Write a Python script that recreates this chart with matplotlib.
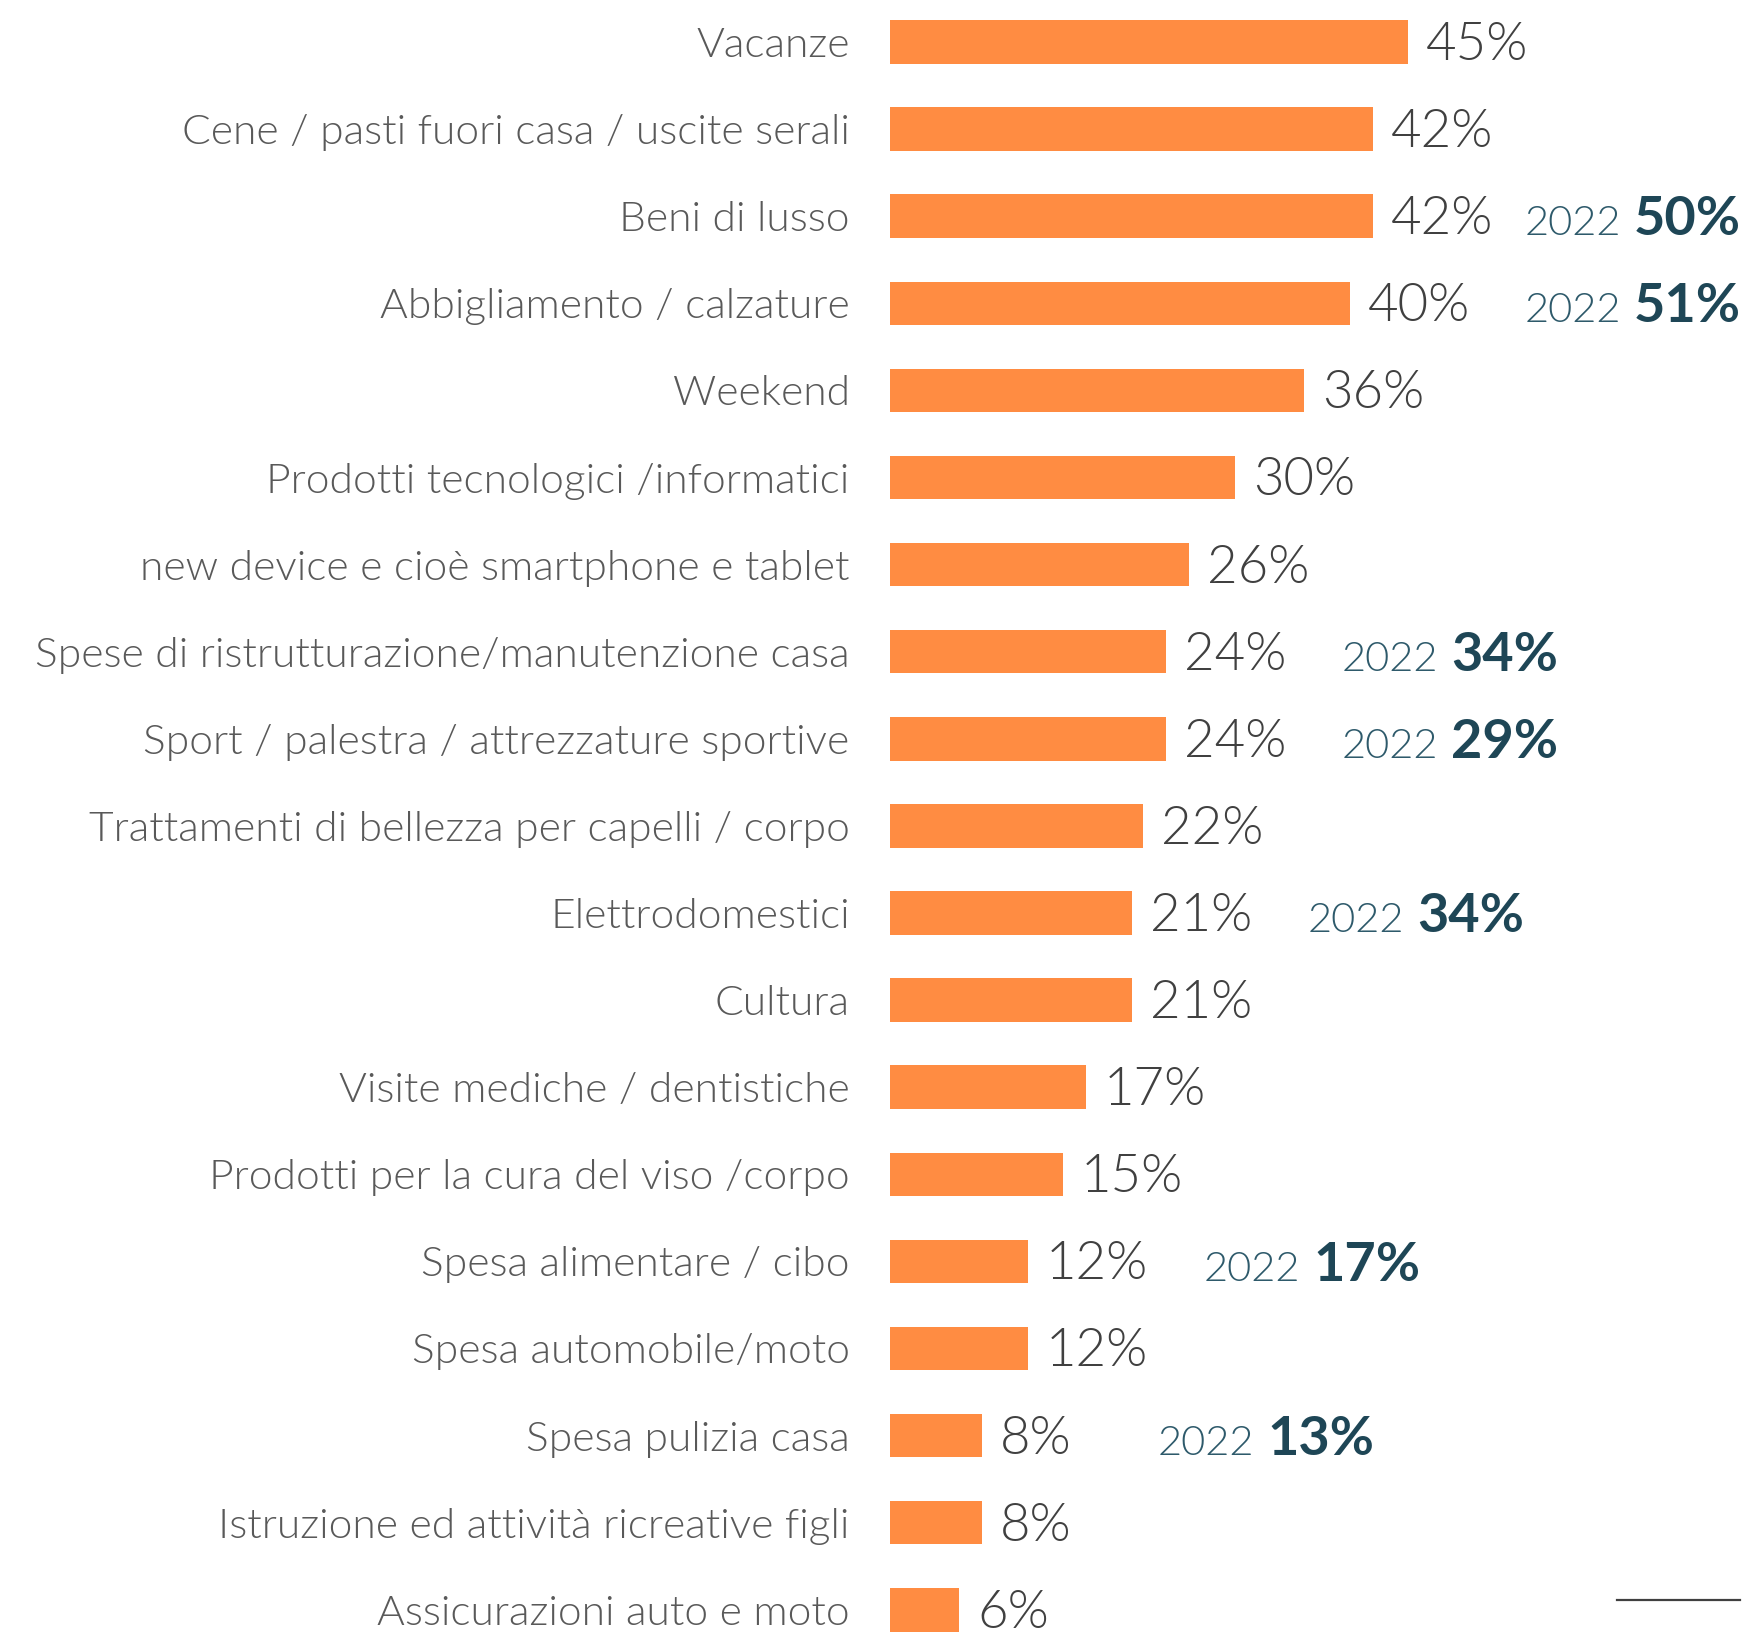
import matplotlib
matplotlib.use("Agg")
import matplotlib.pyplot as plt
from matplotlib.lines import Line2D

plt.rcParams['font.family'] = ['Lato', 'DejaVu Sans']

categories = [
    "Vacanze",
    "Cene / pasti fuori casa / uscite serali",
    "Beni di lusso",
    "Abbigliamento / calzature",
    "Weekend",
    "Prodotti tecnologici /informatici",
    "new device e cioè smartphone e tablet",
    "Spese di ristrutturazione/manutenzione casa",
    "Sport / palestra / attrezzature sportive",
    "Trattamenti di bellezza per capelli / corpo",
    "Elettrodomestici",
    "Cultura",
    "Visite mediche / dentistiche",
    "Prodotti per la cura del viso /corpo",
    "Spesa alimentare / cibo",
    "Spesa automobile/moto",
    "Spesa pulizia casa",
    "Istruzione ed attività ricreative figli",
    "Assicurazioni auto e moto",
]
values = [45, 42, 42, 40, 36, 30, 26, 24, 24, 22, 21, 21, 17, 15, 12, 12, 8, 8, 6]
values_2022 = [None, None, 50, 51, None, None, None, 34, 29, None, 34,
               None, None, None, 17, None, 13, None, None]

BAR = "#FF8C42"
LABEL = "#595959"
VALUE = "#404040"
TEAL_LIGHT = "#2E5A6B"
TEAL = "#1E4656"
LIGHT = 300

W, H, DPI = 1753, 1632, 100
fig = plt.figure(figsize=(W / DPI, H / DPI), dpi=DPI)

# row pitch ~87 px, first row centred 42 px from the top
pitch = 87.1
top = 42
ax = fig.add_axes([890 / W, 0, (W - 890) / W, 1])
ax.set_xlim(0, (W - 890) / 11.5)
ax.set_ylim((H - top) / pitch, -top / pitch)

y = list(range(len(categories)))
ax.barh(y, values, height=0.5, color=BAR)

ax.set_yticks(y)
ax.set_yticklabels(categories, fontsize=30.6, color=LABEL, fontweight=LIGHT)
ax.tick_params(axis='y', length=0, pad=29)
ax.set_xticks([])
for s in ax.spines.values():
    s.set_visible(False)

for i, v in enumerate(values):
    ax.annotate(f"{v}%", (v, i + 0.04), xytext=(13, 0), textcoords='offset points',
                va='center', ha='left', fontsize=38, color=VALUE, fontweight=LIGHT)

# previous-year figures next to the bars
fig.canvas.draw()
r = fig.canvas.get_renderer()
to_data = ax.transData.inverted()
right_limit = W - 12
for i, (v, old) in enumerate(zip(values, values_2022)):
    if old is None:
        continue
    yb = i + 0.22
    t_year = ax.text(v + 15.3, yb, "2022", va='baseline', ha='left',
                     fontsize=30, color=TEAL_LIGHT, fontweight=LIGHT)
    bb = t_year.get_window_extent(r)
    x_old = to_data.transform((bb.x1 + 13, 0))[0]
    t_old = ax.text(x_old, yb, f"{old}%", va='baseline', ha='left',
                    fontsize=39, color=TEAL, fontweight='bold')
    bb2 = t_old.get_window_extent(r)
    if bb2.x1 > right_limit:
        shift = (bb2.x1 - right_limit) / 11.5
        t_year.set_x(t_year.get_position()[0] - shift)
        t_old.set_x(x_old - shift)

fig.add_artist(Line2D([1617 / W, 1740 / W], [1 - 1600 / H, 1 - 1600 / H],
                      transform=fig.transFigure, color="#404040", lw=1.6))

fig.savefig("out.png", dpi=DPI)
